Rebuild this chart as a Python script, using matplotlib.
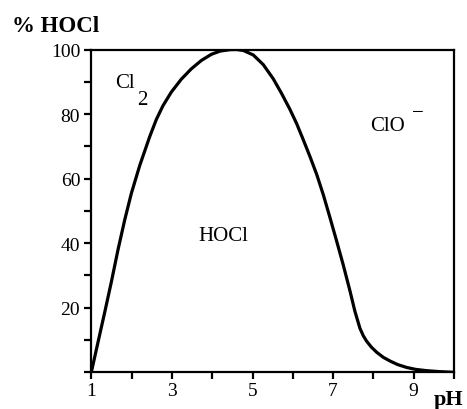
import matplotlib.pyplot as plt
from matplotlib.ticker import MultipleLocator

# values
ph = [1.000, 1.166, 1.333, 1.496, 1.663, 1.829, 1.993, 2.200, 2.449, 2.613,
      2.779, 2.985, 3.233, 3.481, 3.730, 3.978, 4.194, 4.442, 4.600, 4.772,
      5.020, 5.268, 5.516, 5.725, 5.931, 6.097, 6.261, 6.427, 6.593, 6.757,
      6.923, 7.089, 7.253, 7.419, 7.543, 7.667, 7.750, 7.834, 7.950, 8.082,
      8.250, 8.412, 8.600, 8.826, 9.050, 9.323, 9.650, 10.00]
hocl = [0.0, 9.3, 18.6, 27.9, 38.0, 47.2, 55.4, 64.0, 73.0, 78.3,
        82.6, 86.8, 90.8, 94.0, 96.6, 98.5, 99.5, 99.95, 100.0, 99.7,
        98.3, 95.3, 90.9, 86.3, 81.4, 77.0, 72.0, 66.8, 61.3, 55.0,
        47.9, 40.6, 33.2, 25.2, 18.8, 13.6, 11.3, 9.6, 7.8, 6.2,
        4.6, 3.5, 2.4, 1.5, 0.9, 0.5, 0.2, 0.0]

x_ticks = [1, 3, 5, 7, 9]
y_ticks = [20, 40, 60, 80, 100]

W, H = 467, 410

plt.rcParams["font.family"] = ["Liberation Serif", "DejaVu Serif"]

fig = plt.figure(figsize=(W / 100, H / 100), dpi=100)
ax = fig.add_axes([91.3 / W, 1 - 373.3 / H, (454 - 91.3) / W, (373.3 - 50.5) / H])

ax.plot(ph, hocl, color="black", linewidth=2.3,
        solid_capstyle="round", solid_joinstyle="round")

ax.set_xlim(1, 10)
ax.set_ylim(0, 100)
ax.set_xticks(x_ticks)
ax.set_yticks(y_ticks)
ax.xaxis.set_minor_locator(MultipleLocator(1))
ax.yaxis.set_minor_locator(MultipleLocator(10))
ax.tick_params(which="both", direction="out", length=5, width=1.6)
ax.tick_params(axis="x", labelsize=14, pad=2)
ax.tick_params(axis="y", labelsize=14, pad=3)

for spine in ax.spines.values():
    spine.set_linewidth(1.6)

# region labels
ax.text(1.58, 89.9, "Cl", fontsize=15, va="center", ha="left")
ax.text(2.14, 84.6, "2", fontsize=15, va="center", ha="left")
ax.text(3.65, 42.4, "HOCl", fontsize=15, va="center", ha="left")
ax.text(7.93, 76.5, "ClO", fontsize=15, va="center", ha="left")
ax.text(8.95, 80.5, "\u2212", fontsize=15, va="center", ha="left")

fig.text(12 / W, 1 - 27 / H, "% HOCl", fontsize=16.5, fontweight="bold",
         va="center", ha="left")
fig.text(449 / W, 1 - 400 / H, "pH", fontsize=16, fontweight="bold",
         va="center", ha="center")

fig.savefig("out.png", dpi=100)
